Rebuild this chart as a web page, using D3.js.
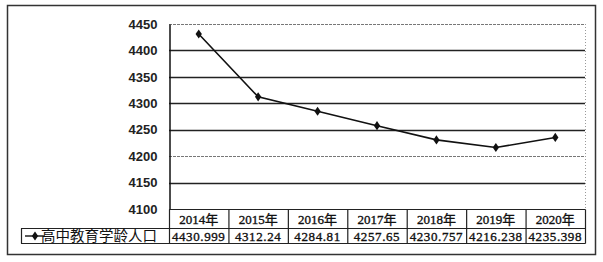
<!DOCTYPE html>
<html>
<head>
<meta charset="utf-8">
<script src="https://cdn.jsdelivr.net/npm/d3@7"></script>
<style>
  body { margin: 0; background: #fff; }
  svg { display: block; }
</style>
</head>
<body>
<script>
// 年份与数值
var years = ["2014年", "2015年", "2016年", "2017年", "2018年", "2019年", "2020年"];
var values = [4430.999, 4312.24, 4284.81, 4257.65, 4230.757, 4216.238, 4235.398];
var valueLabels = ["4430.999", "4312.24", "4284.81", "4257.65", "4230.757", "4216.238", "4235.398"];
var seriesName = "高中教育学龄人口";
var yTicks = [4100, 4150, 4200, 4250, 4300, 4350, 4400, 4450];

var w = 603, h = 262;
var pLeft = 169, pRight = 585, pTop = 24, pBottom = 209;
var rowH1 = 19, rowH2 = 15;

var svg = d3.select("body").append("svg")
  .attr("width", w).attr("height", h);

// 外枠
svg.append("rect")
  .attr("x", 7.5).attr("y", 5.5).attr("width", 588).attr("height", 249)
  .attr("fill", "#fff").attr("stroke", "#333").attr("stroke-width", 1.5);

var x = d3.scaleBand().domain(years).range([pLeft, pRight]);
var y = d3.scaleLinear().domain([4100, 4450]).range([pBottom, pTop]);

// 網格線
svg.selectAll("line.grid")
  .data(yTicks.slice(1))
  .enter().append("line")
  .attr("class", "grid")
  .attr("x1", pLeft).attr("x2", pRight)
  .attr("y1", function(d) { return Math.round(y(d)) + 0.5; })
  .attr("y2", function(d) { return Math.round(y(d)) + 0.5; })
  .attr("stroke", function(d) { return (d === 4450 || d === 4200) ? "#777" : "#222"; })
  .attr("stroke-width", function(d) { return (d === 4450 || d === 4200) ? 1 : 1.6; })
  .attr("stroke-dasharray", function(d) { return (d === 4450 || d === 4200) ? "3,1" : null; });

// 右側の点線
svg.append("line")
  .attr("x1", pRight + 0.5).attr("x2", pRight + 0.5)
  .attr("y1", pTop).attr("y2", pBottom)
  .attr("stroke", "#999").attr("stroke-dasharray", "1,2");

// y軸
var yAxis = d3.axisLeft(y).tickValues(yTicks).tickFormat(d3.format("d"))
  .tickSize(0).tickPadding(12);
var gy = svg.append("g")
  .attr("transform", "translate(" + (pLeft + 0.5) + ",0)")
  .call(yAxis);
gy.select(".domain").attr("stroke", "#111").attr("stroke-width", 1.5);
gy.selectAll("text")
  .attr("font-family", "Liberation Sans, Arial, sans-serif")
  .attr("font-size", 13).attr("font-weight", "bold").attr("fill", "#222");

// 折れ線
var line = d3.line()
  .x(function(d, i) { return x(years[i]) + x.bandwidth() / 2; })
  .y(function(d) { return y(d); });

svg.append("path")
  .datum(values)
  .attr("d", line)
  .attr("fill", "none").attr("stroke", "#111").attr("stroke-width", 1.6);

var diamond = d3.symbol().type(d3.symbolDiamond).size(24);
svg.selectAll("path.pt")
  .data(values)
  .enter().append("path")
  .attr("class", "pt")
  .attr("d", diamond)
  .attr("transform", function(d, i) {
    return "translate(" + (x(years[i]) + x.bandwidth() / 2) + "," + y(d) + ") scale(1.2,1)";
  })
  .attr("fill", "#111");

// データ表
var tbl = svg.append("g").attr("stroke", "#222").attr("stroke-width", 1.2);
var t0 = pBottom + 0.5, t1 = pBottom + rowH1 + 0.5, t2 = pBottom + rowH1 + rowH2 + 0.5;
tbl.append("line").attr("x1", pLeft).attr("x2", pRight + 0.5).attr("y1", t0).attr("y2", t0);
tbl.append("line").attr("x1", 21).attr("x2", pRight + 0.5).attr("y1", t1).attr("y2", t1);
tbl.append("line").attr("x1", 21).attr("x2", pRight + 0.5).attr("y1", t2).attr("y2", t2);
tbl.append("line").attr("x1", 21.5).attr("x2", 21.5).attr("y1", t1).attr("y2", t2);
tbl.selectAll("line.col")
  .data(years.concat(["end"]))
  .enter().append("line")
  .attr("class", "col")
  .attr("x1", function(d) { return (d === "end" ? pRight : x(d)) + 0.5; })
  .attr("x2", function(d) { return (d === "end" ? pRight : x(d)) + 0.5; })
  .attr("y1", t0).attr("y2", t2);

svg.selectAll("text.yr")
  .data(years)
  .enter().append("text")
  .attr("class", "yr")
  .attr("x", function(d) { return x(d) + x.bandwidth() / 2; })
  .attr("y", t0 + 14)
  .attr("text-anchor", "middle")
  .attr("font-family", "Liberation Serif, Noto Sans CJK SC, serif")
  .attr("font-size", 13).attr("fill", "#111")
  .attr("stroke", "#111").attr("stroke-width", 0.35)
  .text(function(d) { return d; });

svg.selectAll("text.val")
  .data(valueLabels)
  .enter().append("text")
  .attr("class", "val")
  .attr("x", function(d, i) { return x(years[i]) + x.bandwidth() / 2; })
  .attr("y", t1 + 12)
  .attr("text-anchor", "middle")
  .attr("font-family", "Liberation Serif, serif")
  .attr("font-size", 13).attr("letter-spacing", 0.6).attr("fill", "#111")
  .attr("stroke", "#111").attr("stroke-width", 0.35)
  .text(function(d) { return d; });

// 凡例
svg.append("line")
  .attr("x1", 25).attr("x2", 45).attr("y1", t1 + 7.5).attr("y2", t1 + 7.5)
  .attr("stroke", "#111").attr("stroke-width", 1.4);
svg.append("path")
  .attr("d", diamond)
  .attr("transform", "translate(35," + (t1 + 7.5) + ") scale(1.2,1)")
  .attr("fill", "#111");
svg.append("text")
  .attr("x", 157).attr("y", t1 + 12.5)
  .attr("text-anchor", "end")
  .attr("font-family", "Noto Sans CJK SC, sans-serif")
  .attr("font-size", 14.5).attr("fill", "#111")
  .text(seriesName);
</script>
</body>
</html>
